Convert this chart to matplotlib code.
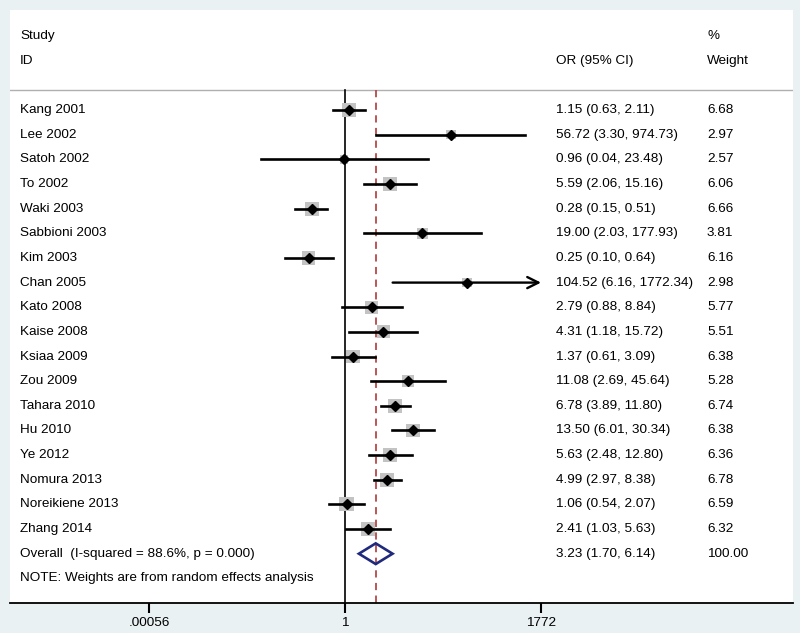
import numpy as np
import matplotlib
matplotlib.use("Agg")
import matplotlib.pyplot as plt
import matplotlib.transforms as mtransforms

plt.rcParams['font.family'] = ['Liberation Sans', 'DejaVu Sans']

studies = ["Kang 2001", "Lee 2002", "Satoh 2002", "To 2002", "Waki 2003",
           "Sabbioni 2003", "Kim 2003", "Chan 2005", "Kato 2008", "Kaise 2008",
           "Ksiaa 2009", "Zou 2009", "Tahara 2010", "Hu 2010", "Ye 2012",
           "Nomura 2013", "Noreikiene 2013", "Zhang 2014"]
or_vals = [1.15, 56.72, 0.96, 5.59, 0.28, 19.00, 0.25, 104.52, 2.79, 4.31,
           1.37, 11.08, 6.78, 13.50, 5.63, 4.99, 1.06, 2.41]
ci_lo = [0.63, 3.30, 0.04, 2.06, 0.15, 2.03, 0.10, 6.16, 0.88, 1.18,
         0.61, 2.69, 3.89, 6.01, 2.48, 2.97, 0.54, 1.03]
ci_hi = [2.11, 974.73, 23.48, 15.16, 0.51, 177.93, 0.64, 1772.34, 8.84, 15.72,
         3.09, 45.64, 11.80, 30.34, 12.80, 8.38, 2.07, 5.63]
weights = [6.68, 2.97, 2.57, 6.06, 6.66, 3.81, 6.16, 2.98, 5.77, 5.51,
           6.38, 5.28, 6.74, 6.38, 6.36, 6.78, 6.59, 6.32]

overall = (3.23, 1.70, 6.14)
overall_label = "Overall  (I-squared = 88.6%, p = 0.000)"
note = "NOTE: Weights are from random effects analysis"
tick_vals = [1 / 1772, 1, 1772]
tick_labels = [".00056", "1", "1772"]

bg = '#e9f1f3'
fs = 9.7

fig = plt.figure(figsize=(8, 6.33), dpi=100, facecolor=bg)
ax = fig.add_axes([10 / 800, 30 / 633, 783 / 800, 593 / 633])
ax.set_facecolor('white')

# pixel mapping: 1 -> 345px, 1772 -> 541px
px_dec = (541 - 345) / np.log10(1772)
ax.set_xscale('log')
ax.set_xlim(10 ** ((10 - 345) / px_dec), 10 ** ((793 - 345) / px_dec))
ax.set_ylim(20.0, -4.06)

for s in ['top', 'left', 'right']:
    ax.spines[s].set_visible(False)
ax.spines['bottom'].set_linewidth(1.3)
ax.set_yticks([])
ax.set_xticks(tick_vals)
ax.set_xticklabels(tick_labels, fontsize=fs)
ax.minorticks_off()
ax.tick_params(axis='x', direction='out', length=7, width=1.5, pad=3)

header_y = -0.81
ax.axhline(header_y, color='#b0b0b0', lw=1.0)
ax.plot([1, 1], [header_y, 20], color='black', lw=1.2)
ax.plot([overall[0], overall[0]], [header_y, 20], color='#b5484a', lw=1.3,
        dashes=(4, 3))

rows = np.arange(len(studies))
xmax_show = 1772
for i in rows:
    y = i
    hi = ci_hi[i]
    if hi > xmax_show:
        ax.annotate("", xy=(xmax_show, y), xytext=(ci_lo[i], y),
                    arrowprops=dict(arrowstyle='->', lw=1.7, color='black',
                                    mutation_scale=20, shrinkA=0, shrinkB=0))
    else:
        ax.plot([ci_lo[i], hi], [y, y], color='black', lw=1.9, zorder=3)
    side_px = 5.5 * np.sqrt(weights[i])
    ax.scatter([or_vals[i]], [y], marker='s', s=(side_px * 0.72) ** 2,
               color='#c3c3c3', edgecolors='none', zorder=2)
    ax.plot([or_vals[i]], [y], marker='D', ms=4.8, color='black', zorder=4)

# overall diamond
oy = len(studies)
ov, olo, ohi = overall
ax.fill([olo, ov, ohi, ov, olo], [oy, oy - 0.42, oy, oy + 0.42, oy],
        facecolor='none', edgecolor='#1f2a7c', lw=1.9, zorder=4)

trans = mtransforms.blended_transform_factory(ax.transAxes, ax.transData)
x_left = 10 / 783
x_or = 546 / 783
x_w = 697 / 783

ax.text(x_left, -3, "Study", transform=trans, fontsize=fs, va='center')
ax.text(x_left, -2, "ID", transform=trans, fontsize=fs, va='center')
ax.text(x_or, -2, "OR (95% CI)", transform=trans, fontsize=fs, va='center')
ax.text(x_w, -3, "%", transform=trans, fontsize=fs, va='center')
ax.text(x_w, -2, "Weight", transform=trans, fontsize=fs, va='center')

for i in rows:
    ax.text(x_left, i, studies[i], transform=trans, fontsize=fs, va='center')
    ax.text(x_or, i, f"{or_vals[i]:.2f} ({ci_lo[i]:.2f}, {ci_hi[i]:.2f})",
            transform=trans, fontsize=fs, va='center')
    ax.text(x_w, i, f"{weights[i]:.2f}", transform=trans, fontsize=fs,
            va='center')

ax.text(x_left, oy, overall_label, transform=trans, fontsize=fs, va='center')
ax.text(x_or, oy, f"{ov:.2f} ({olo:.2f}, {ohi:.2f})", transform=trans,
        fontsize=fs, va='center')
ax.text(x_w, oy, "100.00", transform=trans, fontsize=fs, va='center')
ax.text(x_left, oy + 1, note, transform=trans, fontsize=fs, va='center')

fig.savefig("out.png", dpi=100, facecolor=bg)
